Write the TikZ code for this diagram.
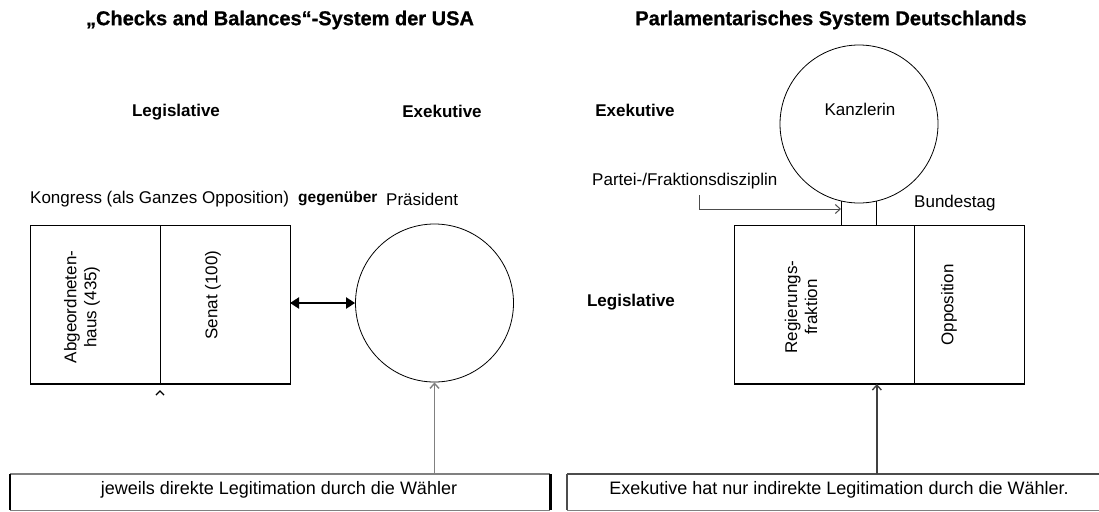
\documentclass[tikz,border=0pt]{standalone}
\usepackage{fontspec}
\setmainfont{Liberation Sans}
\newfontfamily\heavyfont[FakeBold=0.8]{Liberation Sans Bold}
\usetikzlibrary{arrows.meta,calc}
\begin{document}
\begin{tikzpicture}[x=1pt,y=-1pt,
 lbl/.style={inner sep=0pt, font=\fontsize{17}{19}\selectfont},
 blbl/.style={inner sep=0pt, font=\fontsize{17}{19}\selectfont\bfseries},
 ttl/.style={inner sep=0pt, font=\fontsize{20}{22}\selectfont\heavyfont},
 cell/.style={draw, line width=0.8pt, inner sep=0pt, outer sep=0pt},
 rot/.style={rotate=90, align=center, inner sep=0pt, font=\fontsize{17}{20}\selectfont},
 circ/.style={circle, draw, line width=0.8pt, minimum size=158pt, inner sep=0pt},
 garrow/.style={-{Straight Barb[length=5pt,width=9pt]}, line width=1.4pt},
 dblarrow/.style={{Triangle[length=9pt,width=11pt]}-{Triangle[length=9pt,width=11pt]}, line width=2pt},
 votebox/.style={inner sep=0pt, outer sep=0pt, font=\fontsize{18}{20}\selectfont},
]
\useasboundingbox (0,0) rectangle (1099,511);
\fill[white] (0,0) rectangle (1099,511);

% ---------- left: USA ----------
\node[ttl] (tl) at (280,20) {„Checks and Balances“-System der USA};
\node[blbl] (legl) at (176,112) {Legislative};
\node[blbl] (exl) at (442,111) {Exekutive};
\node[lbl, anchor=west] (kong) at (30,199) {Kongress (als Ganzes Opposition)};
\node[inner sep=0pt, font=\fontsize{15.5}{18}\selectfont\bfseries, anchor=west] (geg) at (298,199) {gegenüber};
\node[lbl, anchor=west] (pres) at (386,199) {Präsident};

\node[cell, minimum width=130pt, minimum height=159pt] (abg) at (95,304.5) {};
\node[cell, minimum width=130pt, minimum height=159pt] (sen) at (225,304.5) {};
\draw[line width=2pt] (abg.south west) -- (sen.south east);
\node[rot] (abgt) at (82,307) {Abgeordneten-\\haus (435)};
\node[rot] (sent) at (213,295) {Senat (100)};

\node[circ] (praes) at (434.5,303) {};
\draw[dblarrow] (sen.east |- praes.west) -- (praes.west);

% caret below the divider
\draw[line width=1.4pt] (156,395) -- (160,391) -- (164,395);

% bottom box left
\node[votebox, minimum width=540pt, minimum height=36pt] (vl) at (280,492) {};
\node[votebox] (vlt) at (279,490) {jeweils direkte Legitimation durch die Wähler};
\draw[gray, line width=1.3pt] (vl.north west) -- (vl.north east);
\draw[gray, line width=1pt] (vl.south west) -- (vl.south east);
\draw[line width=2pt] (vl.north west) -- (vl.south west);
\draw[line width=3pt] (vl.north east) -- (vl.south east);
\draw[garrow, draw=gray] (vl.north -| praes.south) -- (praes.south);

% ---------- right: Germany ----------
\node[ttl] (tr) at (831,20) {Parlamentarisches System Deutschlands};
\node[blbl] (exr) at (635,110) {Exekutive};
\node[circ] (kanz) at (859,124) {};
\node[lbl] (kanzt) at (860,109) {Kanzlerin};
\node[lbl, anchor=west] (part) at (592,181) {Partei-/Fraktionsdisziplin};
\node[lbl, anchor=west] (bund) at (914,203) {Bundestag};
\node[blbl] (legr) at (631,302) {Legislative};

\node[cell, minimum width=180pt, minimum height=159pt] (reg) at (824,304.5) {};
\node[cell, minimum width=110pt, minimum height=159pt] (opp) at (969,304.5) {};
\draw[line width=2pt] (reg.south west) -- (opp.south east);
\node[rot] (regt) at (801,307) {Regierungs-\\fraktion};
\node[rot] (oppt) at (949,305) {Opposition};

\coordinate (kl) at (kanz.257);
\coordinate (kr) at (kanz.283);
\draw[line width=0.8pt] (kl) -- (kl |- reg.north);
\draw[line width=0.8pt] (kr) -- (kr |- reg.north);
\coordinate (pstart) at (699,195);
\coordinate (pend) at (841,209);
\draw[garrow, line width=1pt, draw=black!70] (pstart) |- (pend);

% bottom box right
\node[votebox, minimum width=540pt, minimum height=36pt] (vr) at (837,492) {};
\node[votebox] (vrt) at (839,490) {Exekutive hat nur indirekte Legitimation durch die Wähler.};
\draw[black!70, line width=1.3pt] (vr.north west) -- (vr.north east);
\draw[gray, line width=1pt] (vr.south west) -- (vr.south east);
\draw[black!70, line width=1.5pt] (vr.north west) -- (vr.south west);
\coordinate (rup) at (kr |- reg.south);
\draw[garrow, draw=black!75] (vr.north -| rup) -- (rup);
\end{tikzpicture}
\end{document}
